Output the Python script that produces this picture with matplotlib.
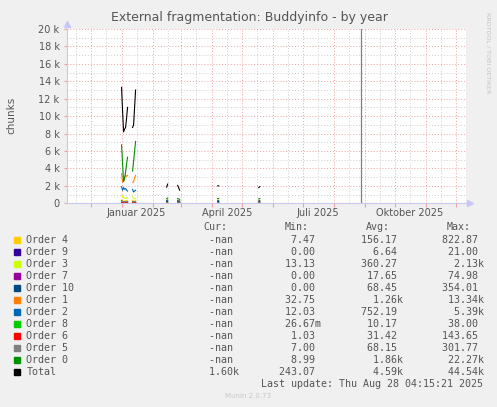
import matplotlib
matplotlib.use('Agg')
import matplotlib.pyplot as plt
import matplotlib.dates as mdates
from matplotlib.ticker import MultipleLocator, FuncFormatter
from matplotlib.patches import Rectangle
import numpy as np

nan = np.nan

# sample days (one value per day, nan breaks the line)
dates = ['2025-01-01', '2025-01-02', '2025-01-03', '2025-01-04', '2025-01-05',
         '2025-01-06', '2025-01-07', '2025-01-08',
         '2025-01-12', '2025-01-13', '2025-01-14', '2025-01-15', '2025-01-16',
         '2025-02-15', '2025-02-16', '2025-02-17',
         '2025-02-26', '2025-02-27', '2025-02-28', '2025-03-01',
         '2025-04-07', '2025-04-08', '2025-04-09',
         '2025-05-18', '2025-05-19', '2025-05-20']

order0 = [6700, 4500, 2500, 2800, 3600, 4500, 5300, nan,
          3700, 4800, 6000, 7100, nan,
          550, 600, nan, 550, 500, 450, nan, 550, 550, nan, 500, 550, nan]
order1 = [3400, 2400, 2600, 3000, 3200, 3100, 3200, nan,
          2400, 2500, 2900, 3200, nan,
          350, 400, nan, 350, 300, 300, nan, 350, 350, nan, 300, 350, nan]
order2 = [1900, 1500, 1800, 1600, 1700, 1500, 1400, nan,
          1600, 1300, 1400, 1500, nan,
          300, 350, nan, 300, 250, 250, nan, 300, 300, nan, 250, 300, nan]
order3 = [900, 800, 650, 600, 550, 600, 700, nan,
          750, 600, 500, 550, nan,
          150, 200, nan, 150, 150, 120, nan, 150, 150, nan, 130, 150, nan]
order4 = [400, 300, 250, 250, 300, 300, 350, nan,
          350, 250, 250, 300, nan,
          80, 100, nan, 80, 70, 70, nan, 80, 80, nan, 70, 80, nan]
order5 = [250, 200, 150, 150, 170, 180, 200, nan,
          200, 150, 150, 180, nan,
          50, 60, nan, 50, 40, 40, nan, 50, 50, nan, 40, 50, nan]
order6 = [120, 90, 70, 70, 80, 90, 100, nan,
          100, 80, 80, 90, nan,
          20, 25, nan, 20, 15, 15, nan, 20, 20, nan, 15, 20, nan]
order7 = [60, 40, 30, 30, 35, 40, 45, nan,
          45, 35, 35, 40, nan,
          10, 12, nan, 10, 8, 8, nan, 10, 10, nan, 8, 10, nan]
order8 = [30, 20, 15, 15, 18, 20, 22, nan,
          22, 18, 18, 20, nan,
          5, 6, nan, 5, 4, 4, nan, 5, 5, nan, 4, 5, nan]
order9 = [15, 10, 8, 8, 9, 10, 11, nan,
          11, 9, 9, 10, nan,
          2, 3, nan, 2, 2, 2, nan, 2, 2, nan, 2, 2, nan]
order10 = [300, 200, 150, 150, 150, 150, 150, nan,
           200, 150, 150, 150, nan,
           200, 220, nan, 200, 180, 180, nan, 200, 200, nan, 180, 200, nan]
total = [13300, 10600, 8200, 8500, 8700, 9800, 11000, nan,
         8700, 9000, 11000, 13000, nan,
         1850, 2200, nan, 2050, 1800, 1500, nan, 2000, 2000, nan, 1800, 1900, nan]

update_marker = '2025-08-28'

# legend rows: name, colour, cur, min, avg, max
names = ['Order 4', 'Order 9', 'Order 3', 'Order 7', 'Order 10', 'Order 1',
         'Order 2', 'Order 8', 'Order 6', 'Order 5', 'Order 0', 'Total']
colors = ['#FFCC00', '#330099', '#CCFF00', '#990099', '#00487D', '#FF8000',
          '#0066B3', '#00CC00', '#FF0000', '#808080', '#008F00', '#000000']
series = [order4, order9, order3, order7, order10, order1,
          order2, order8, order6, order5, order0, total]
cur_vals = ['-nan', '-nan', '-nan', '-nan', '-nan', '-nan',
            '-nan', '-nan', '-nan', '-nan', '-nan', '1.60k']
min_vals = ['7.47', '0.00', '13.13', '0.00', '0.00', '32.75',
            '12.03', '26.67m', '1.03', '7.00', '8.99', '243.07']
avg_vals = ['156.17', '6.64', '360.27', '17.65', '68.45', '1.26k',
            '752.19', '10.17', '31.42', '68.15', '1.86k', '4.59k']
max_vals = ['822.87', '21.00', '2.13k', '74.98', '354.01', '13.34k',
            '5.39k', '38.00', '143.65', '301.77', '22.27k', '44.54k']

months_de = {1: 'Januar', 4: 'April', 7: 'Juli', 10: 'Oktober'}

W, H = 497, 407
fig = plt.figure(figsize=(W / 100, H / 100), dpi=100)
fig.patch.set_facecolor('#F0F0F0')
ax = fig.add_axes([66.5 / W, 1 - 203.3 / H, 399.5 / W, 174.3 / H])
ax.set_facecolor('white')

x = np.array(dates, dtype='datetime64[D]')
for vals, c in zip(series, colors):
    ax.plot(x, vals, color=c, lw=0.8, zorder=3)
ax.axvline(np.datetime64(update_marker), color='#808080', lw=0.9, zorder=3)

ax.set_xlim(np.datetime64('2024-11-07'), np.datetime64('2025-12-11'))
ax.set_ylim(0, 20000)

ax.xaxis.set_major_locator(mdates.MonthLocator())
ax.xaxis.set_minor_locator(mdates.MonthLocator(bymonthday=16))
ax.xaxis.set_major_formatter(FuncFormatter(lambda v, p: ''))


def month_label(v, p):
    d = mdates.num2date(v)
    if d.month in months_de:
        return f'{months_de[d.month]} {d.year}'
    return ''


ax.xaxis.set_minor_formatter(FuncFormatter(month_label))
ax.yaxis.set_major_locator(MultipleLocator(2000))
ax.yaxis.set_minor_locator(MultipleLocator(1000))
ax.yaxis.set_major_formatter(FuncFormatter(
    lambda v, p: '0' if v == 0 else f'{int(v / 1000)} k'))

dot = (0, (1, 2))
ax.grid(which='major', color='#F0A0A0', lw=0.7, linestyle=dot, zorder=1)
ax.grid(which='minor', color='#CDCDCD', lw=0.7, linestyle=dot, zorder=0)

ax.tick_params(which='major', axis='x', length=3, color='#F0A0A0',
               direction='out', labelsize=7)
ax.tick_params(which='minor', axis='x', length=0, labelsize=7,
               labelcolor='#555555', pad=3.5)
ax.tick_params(which='major', axis='y', length=2, color='#F0A0A0',
               labelsize=7, labelcolor='#555555', pad=3)
ax.tick_params(which='minor', axis='y', length=0)

for s in ['top', 'right']:
    ax.spines[s].set_visible(False)
for s in ['left', 'bottom']:
    ax.spines[s].set_color('#C8C8F0')
    ax.spines[s].set_linewidth(0.8)

# axis arrows
ax.plot([0], [1.03], marker='^', ms=4, color='#C8C8F8', transform=ax.transAxes,
        clip_on=False)
ax.plot([1.01], [0], marker='>', ms=4, color='#C8C8F8', transform=ax.transAxes,
        clip_on=False)

fig.text(249 / W, 1 - 17 / H, 'External fragmentation: Buddyinfo - by year',
         ha='center', va='center', fontsize=9, color='#555555')
fig.text(11 / W, 1 - 115 / H, 'chunks', rotation=90, ha='center', va='center',
         fontsize=7.5, color='#555555')
fig.text(488 / W, 1 - 53 / H, 'RRDTOOL / TOBI OETIKER', rotation=270,
         ha='center', va='center', fontsize=4.6, color='#C4C4C4')

# legend block
mono = 'DejaVu Sans Mono'
fs = 7.2
tcol = '#555555'
hy = 1 - 227.3 / H
for lbl, xx in [('Cur:', 203.3), ('Min:', 285), ('Avg:', 365.7), ('Max:', 446.7)]:
    fig.text(xx / W, hy, lbl, ha='left', va='center', family=mono,
             fontsize=fs, color=tcol)


def cell(v):
    if v[-1] in 'kmM':
        return f'{v[:-1]:>6}{v[-1]}'
    return f'{v:>6} '


for i, name in enumerate(names):
    yy = 1 - (239.7 + 12 * i) / H
    fig.patches.append(Rectangle((14 / W, yy - 3 / H), 6 / W, 6 / H,
                                 transform=fig.transFigure, color=colors[i]))
    fig.text(26.3 / W, yy, name, ha='left', va='center', family=mono,
             fontsize=fs, color=tcol)
    for vals, xx in [(cur_vals, 197.3), (min_vals, 279.3),
                     (avg_vals, 360.7), (max_vals, 441.7)]:
        fig.text(xx / W, yy, cell(vals[i]), ha='left', va='center',
                 family=mono, fontsize=fs, color=tcol)

fig.text(482.7 / W, 1 - 383.7 / H, 'Last update: Thu Aug 28 04:15:21 2025',
         ha='right', va='center', family=mono, fontsize=fs, color=tcol)
fig.text(248 / W, 1 - 396 / H, 'Munin 2.0.73', ha='center', va='center',
         fontsize=5, color='#C8C8C8')

fig.savefig('out.png', dpi=100, facecolor=fig.get_facecolor())
